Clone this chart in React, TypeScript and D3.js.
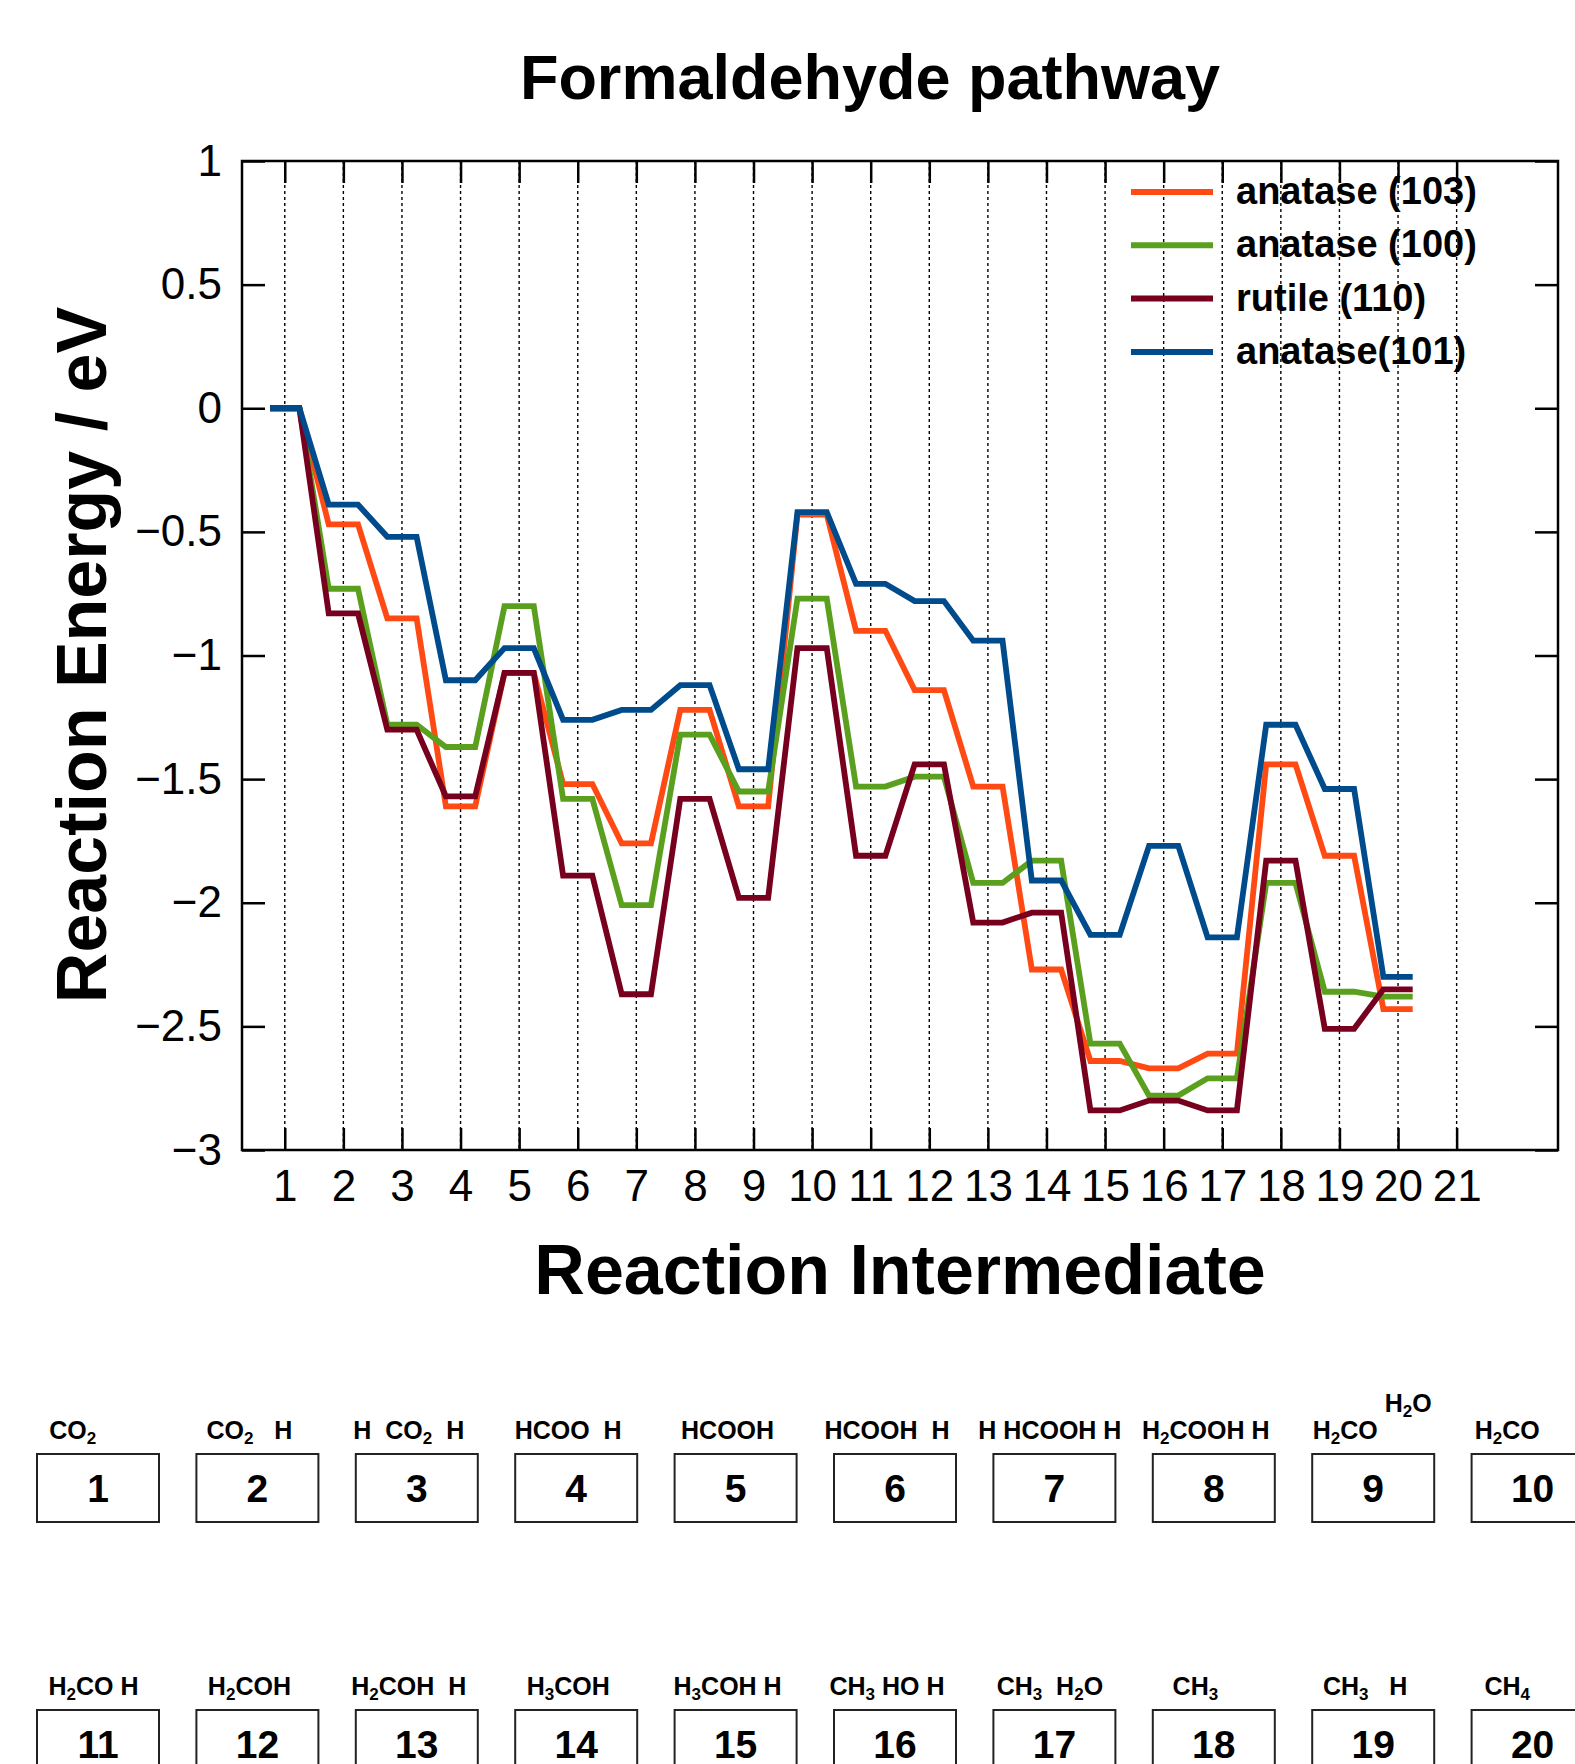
import React, { useRef, useEffect } from 'react';
import * as d3 from 'd3';

// reaction intermediates along the x axis
const steps = [1, 2, 3, 4, 5, 6, 7, 8, 9, 10, 11, 12, 13, 14, 15, 16, 17, 18, 19, 20];
const xTicks = [1, 2, 3, 4, 5, 6, 7, 8, 9, 10, 11, 12, 13, 14, 15, 16, 17, 18, 19, 20, 21];
const yTicks = [1, 0.5, 0, -0.5, -1, -1.5, -2, -2.5, -3];

// reaction energies (eV)
const anatase103 = [0, -0.47, -0.85, -1.61, -1.07, -1.52, -1.76, -1.22, -1.61, -0.43, -0.9, -1.14, -1.53, -2.27, -2.64, -2.67, -2.61, -1.44, -1.81, -2.43];
const anatase100 = [0, -0.73, -1.28, -1.37, -0.8, -1.58, -2.01, -1.32, -1.55, -0.77, -1.53, -1.49, -1.92, -1.83, -2.57, -2.78, -2.71, -1.92, -2.36, -2.38];
const rutile110 = [0, -0.83, -1.3, -1.57, -1.07, -1.89, -2.37, -1.58, -1.98, -0.97, -1.81, -1.44, -2.08, -2.04, -2.84, -2.8, -2.84, -1.83, -2.51, -2.35];
const anatase101 = [0, -0.39, -0.52, -1.1, -0.97, -1.26, -1.22, -1.12, -1.46, -0.42, -0.71, -0.78, -0.94, -1.91, -2.13, -1.77, -2.14, -1.28, -1.54, -2.3];

const seriesNames = ['anatase (103)', 'anatase (100)', 'rutile (110)', 'anatase(101)'];
const seriesValues = [anatase103, anatase100, rutile110, anatase101];
const seriesColors = ['#ff4a14', '#5aa01e', '#78001f', '#004b8c'];

// species under each numbered box ("_" = subscript, "^" = raised part)
const speciesLabels = [
  'CO_2     ', 'CO_2   H', 'H  CO_2  H', 'HCOO  H', 'HCOOH',
  'HCOOH  H', ' H HCOOH H', 'H_2COOH H', '  H_2CO ^H_2O', 'H_2CO     ',
  ' H_2CO H', 'H_2COH', 'H_2COH  H', 'H_3COH', 'H_3COH H',
  'CH_3 HO H', ' CH_3  H_2O', 'CH_3   ', 'CH_3   H', 'CH_4     ',
];

const W = 1575;
const H = 1764;
const FONT = '"Liberation Sans", Arial, Helvetica, sans-serif';

function addChem(text: any, label: string) {
  const segs: { t: string; sub: boolean; raised: boolean }[] = [];
  let buf = '';
  let raised = false;
  const flush = () => {
    if (buf) segs.push({ t: buf, sub: false, raised });
    buf = '';
  };
  for (let i = 0; i < label.length; i++) {
    const ch = label[i];
    if (ch === '_') {
      flush();
      segs.push({ t: label[i + 1], sub: true, raised });
      i++;
    } else if (ch === '^') {
      flush();
      raised = true;
    } else buf += ch;
  }
  flush();
  let offset = 0;
  segs.forEach(s => {
    const target = (s.raised ? -27 : 0) + (s.sub ? 5 : 0);
    text.append('tspan')
      .attr('dy', target - offset)
      .attr('font-size', s.sub ? 17 : 25)
      .text(s.t);
    offset = target;
  });
}

export default function App() {
  const svgRef = useRef<SVGSVGElement>(null);

  useEffect(() => {
    const svg = d3.select(svgRef.current);
    svg.selectAll('*').remove();

    const plot = { left: 242, right: 1558, top: 161, bottom: 1150 };

    const x = d3.scaleLinear().domain([0.27, 22.73]).range([plot.left, plot.right]);
    const y = d3.scaleLinear().domain([-3, 1]).range([plot.bottom, plot.top]);

    // title
    svg.append('text')
      .attr('x', 870).attr('y', 99)
      .attr('text-anchor', 'middle')
      .attr('font-family', FONT).attr('font-weight', 'bold').attr('font-size', 63)
      .text('Formaldehyde pathway');

    // dashed vertical grid
    svg.append('g').selectAll('line')
      .data(xTicks)
      .enter().append('line')
      .attr('x1', d => x(d)).attr('x2', d => x(d))
      .attr('y1', plot.top).attr('y2', plot.bottom)
      .attr('stroke', '#000').attr('stroke-width', 1.4)
      .attr('stroke-dasharray', '3,3');

    // axes, ticks pointing inward
    const styleAxis = (g: any, labels: boolean) => {
      g.select('.domain').remove();
      g.selectAll('.tick line').attr('stroke', '#000').attr('stroke-width', 2.5);
      g.selectAll('.tick text')
        .attr('font-family', FONT).attr('font-size', 44).attr('fill', '#000');
      if (!labels) g.selectAll('.tick text').remove();
    };

    svg.append('g')
      .attr('transform', `translate(${plot.left},0)`)
      .call(d3.axisLeft(y).tickValues(yTicks).tickSize(-23).tickPadding(20).tickFormat(d3.format('')))
      .call((g: any) => styleAxis(g, true));
    svg.append('g')
      .attr('transform', `translate(${plot.right},0)`)
      .call(d3.axisRight(y).tickValues(yTicks).tickSize(-23))
      .call((g: any) => styleAxis(g, false));
    svg.append('g')
      .attr('transform', `translate(0,${plot.bottom})`)
      .call(d3.axisBottom(x).tickValues(xTicks).tickSize(-22).tickPadding(20).tickFormat(d3.format('d')))
      .call((g: any) => styleAxis(g, true));
    svg.append('g')
      .attr('transform', `translate(0,${plot.top})`)
      .call(d3.axisTop(x).tickValues(xTicks).tickSize(-22))
      .call((g: any) => styleAxis(g, false));

    // frame
    svg.append('rect')
      .attr('x', plot.left).attr('y', plot.top)
      .attr('width', plot.right - plot.left).attr('height', plot.bottom - plot.top)
      .attr('fill', 'none').attr('stroke', '#000').attr('stroke-width', 2.5);

    // energy profiles: a short plateau at each intermediate
    const line = d3.line<[number, number]>()
      .x(d => x(d[0]))
      .y(d => y(d[1]));

    seriesValues.forEach((vals, k) => {
      const pts: [number, number][] = steps.flatMap((s, i) => [
        [s - 0.25, vals[i]] as [number, number],
        [s + 0.25, vals[i]] as [number, number],
      ]);
      svg.append('path')
        .datum(pts)
        .attr('d', line)
        .attr('fill', 'none')
        .attr('stroke', seriesColors[k])
        .attr('stroke-width', 5.8);
    });

    // legend
    const legend = svg.append('g');
    seriesNames.forEach((name, k) => {
      const ly = 192 + k * 53.3;
      legend.append('line')
        .attr('x1', 1131).attr('x2', 1213)
        .attr('y1', ly).attr('y2', ly)
        .attr('stroke', seriesColors[k]).attr('stroke-width', 6);
      legend.append('text')
        .attr('x', 1236).attr('y', ly + 12)
        .attr('font-family', FONT).attr('font-weight', 'bold').attr('font-size', 38)
        .text(name);
    });

    // axis titles
    svg.append('text')
      .attr('x', 900).attr('y', 1294)
      .attr('text-anchor', 'middle')
      .attr('font-family', FONT).attr('font-weight', 'bold').attr('font-size', 70)
      .text('Reaction Intermediate');
    svg.append('text')
      .attr('transform', 'translate(106,655) rotate(-90)')
      .attr('text-anchor', 'middle')
      .attr('font-family', FONT).attr('font-weight', 'bold').attr('font-size', 70)
      .text('Reaction Energy / eV');

    // key of intermediates
    const key = svg.append('g');
    steps.forEach((s, i) => {
      const col = i % 10;
      const row = Math.floor(i / 10);
      const bx = 37 + col * 159.4;
      const by = 1454 + row * 256;
      key.append('rect')
        .attr('x', bx).attr('y', by)
        .attr('width', 122).attr('height', 68)
        .attr('fill', '#fff').attr('stroke', '#222').attr('stroke-width', 2);
      key.append('text')
        .attr('x', bx + 61).attr('y', by + 48)
        .attr('text-anchor', 'middle')
        .attr('font-family', FONT).attr('font-weight', 'bold').attr('font-size', 39)
        .text(String(s));
      const t = key.append('text')
        .attr('x', bx + 53).attr('y', by - 15)
        .attr('text-anchor', 'middle')
        .attr('xml:space', 'preserve')
        .style('white-space', 'pre')
        .attr('font-family', FONT).attr('font-weight', 'bold').attr('font-size', 25);
      addChem(t, speciesLabels[i]);
    });
  }, []);

  return (
    <svg
      ref={svgRef}
      width={W}
      height={H}
      style={{ position: 'absolute', left: 0, top: 0, background: '#fff' }}
    />
  );
}
